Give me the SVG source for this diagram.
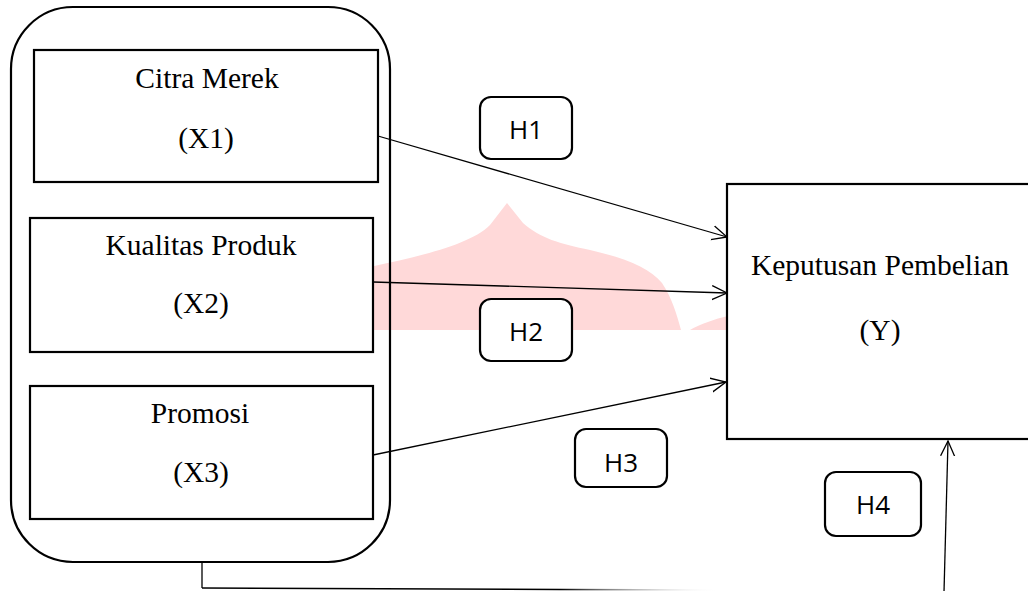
<svg xmlns="http://www.w3.org/2000/svg" width="1028" height="591" viewBox="0 0 1028 591">
<style>
.box{fill:#fff;stroke:#000;stroke-width:2.2}
.cont{fill:none;stroke:#000;stroke-width:2.2}
.hbox{fill:#fff;stroke:#000;stroke-width:2.2}
.t{font-family:"Liberation Serif","Times New Roman",serif;font-size:29.5px;fill:#000;text-anchor:middle}
.h{font-family:"Open Sans","Noto Sans",sans-serif;font-size:26px;fill:#000;text-anchor:middle}
.c{fill:none;stroke:#000;stroke-width:1.3}
</style>
<defs>
<marker id="arr" markerWidth="16" markerHeight="16" refX="15" refY="8" orient="auto" markerUnits="userSpaceOnUse">
<path d="M0,1 L15,8 L0,15" fill="none" stroke="#000" stroke-width="1.3"/>
</marker>
<linearGradient id="fade" gradientUnits="userSpaceOnUse" x1="560" y1="0" x2="720" y2="0">
<stop offset="0" stop-color="#000"/>
<stop offset="1" stop-color="#fff" stop-opacity="0"/>
</linearGradient>
</defs>
<rect width="1028" height="591" fill="#fff"/>
<g id="watermark" fill="#ffd9d9">
<path d="M150,330 C230,298 310,280 370,267 C420,256 470,245 490,225 L507,203 L523,223 C540,238 560,244 590,250 C625,258 650,268 662,283 C672,298 677,315 681,330 Z"/>
<path d="M690,330 C700,324 715,319 728,316 L728,330 Z"/>
</g>
<g id="group-x">
<rect class="cont" x="11" y="7" width="379" height="555" rx="62" ry="62"/>
</g>
<g id="node-x1">
<rect class="box" x="34" y="50" width="344" height="132"/>
<text class="t" x="207" y="88">Citra Merek</text>
<text class="t" x="206" y="148">(X1)</text>
</g>
<g id="node-x2">
<rect class="box" x="30" y="218" width="343" height="134"/>
<text class="t" x="201" y="255">Kualitas Produk</text>
<text class="t" x="201" y="313">(X2)</text>
</g>
<g id="node-x3">
<rect class="box" x="30" y="386" width="343" height="133"/>
<text class="t" x="200" y="423">Promosi</text>
<text class="t" x="201" y="482">(X3)</text>
</g>
<g id="node-y">
<rect class="box" x="727" y="184" width="305" height="255"/>
<text class="t" x="880" y="275">Keputusan Pembelian</text>
<text class="t" x="880" y="340">(Y)</text>
</g>
<g id="connectors">
<line class="c" x1="378" y1="136" x2="727" y2="237" marker-end="url(#arr)"/>
<line class="c" x1="373" y1="282" x2="727" y2="293" marker-end="url(#arr)"/>
<line class="c" x1="373" y1="455" x2="726" y2="382" marker-end="url(#arr)"/>
<line class="c" x1="202" y1="562" x2="202" y2="588"/>
<path d="M202,588 L560,589.5 L720,590" fill="none" stroke="url(#fade)" stroke-width="1.6"/>
<line class="c" x1="944" y1="592" x2="948" y2="441" marker-end="url(#arr)"/>
</g>
<g id="label-h1">
<rect class="hbox" x="480" y="97" width="92" height="62" rx="11"/>
<text class="h" x="526" y="139">H1</text>
</g>
<g id="label-h2">
<rect class="hbox" x="480" y="299" width="92" height="62" rx="11"/>
<text class="h" x="526" y="341">H2</text>
</g>
<g id="label-h3">
<rect class="hbox" x="575" y="429" width="92" height="58" rx="11"/>
<text class="h" x="621" y="472">H3</text>
</g>
<g id="label-h4">
<rect class="hbox" x="825" y="472" width="96" height="64" rx="11"/>
<text class="h" x="873" y="514">H4</text>
</g>
</svg>
